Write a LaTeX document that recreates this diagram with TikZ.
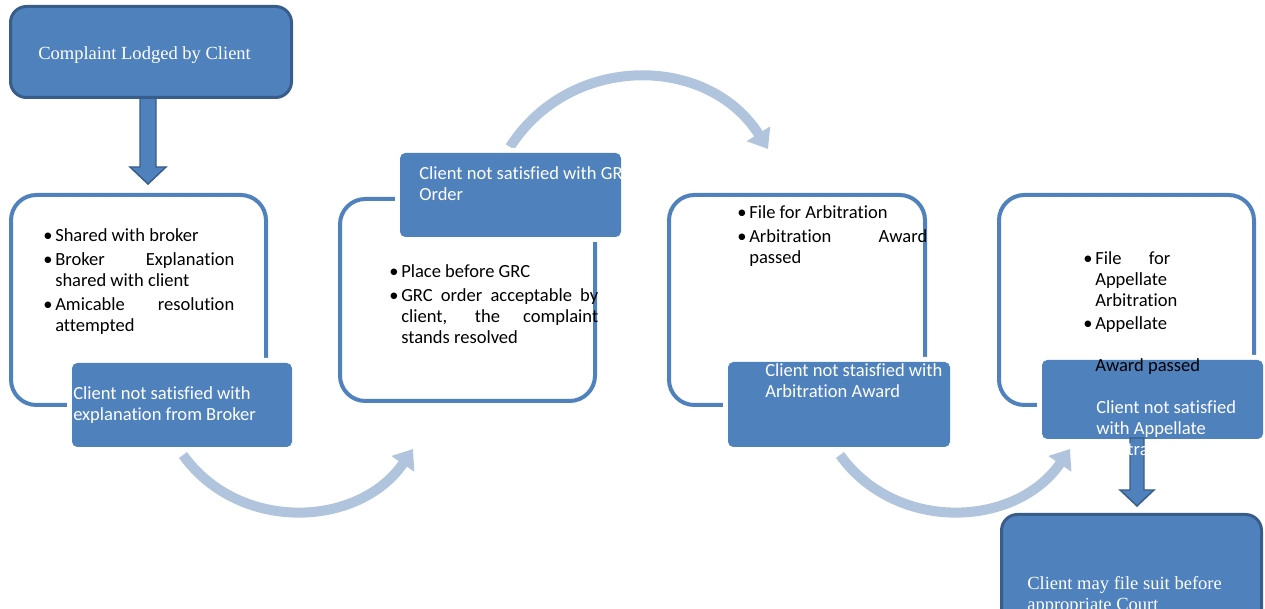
\documentclass[tikz,border=0pt]{standalone}
\usepackage{fontspec}
\setmainfont{Carlito}[Ligatures=NoCommon]
\newfontfamily\serifface{Liberation Serif}
\usetikzlibrary{arrows.meta}
\definecolor{boxblue}{HTML}{4F81BD}
\definecolor{boxdark}{HTML}{385D8A}
\definecolor{flowblue}{HTML}{B0C4DE}
\newcommand\bul{\makebox[9pt][l]{\textbullet}}
\newcommand\ind{\hspace*{9pt}}
\newcommand\sj[2]{\makebox[#1][s]{#2}}
\begin{document}
\begin{tikzpicture}[x=0.75pt, y=-0.75pt,
    stage/.style={draw=boxblue, line width=3pt, rounded corners=19pt, inner sep=0pt, outer sep=0pt, anchor=north west},
    tag/.style={fill=boxblue, rounded corners=4pt, inner sep=0pt, outer sep=0pt, anchor=north west,
                preaction={draw=white, line width=7.5pt}},
    endbox/.style={fill=boxblue, draw=boxdark, line width=2.25pt, rounded corners=12pt, inner sep=0pt, outer sep=0pt, anchor=north west},
    flow/.style={draw=flowblue, line width=7.5pt, -{Triangle[length=13.5pt, width=20pt]}},
    down/.style={fill=boxblue, draw=boxdark, line width=1.1pt},
    list/.style={anchor=base west, align=left, inner sep=0pt, font=\fontsize{13.9}{15.75}\selectfont},
    tagtext/.style={list, text=white},
    serif/.style={anchor=base west, align=left, inner sep=0pt, text=white, font=\serifface\fontsize{13.9}{16.5}\selectfont}]
\useasboundingbox (0,0) rectangle (1265,609);
% outline stages
\node[stage, minimum width=191.25pt, minimum height=157.5pt] (broker) at (11,195) {};
\node[stage, minimum width=191.25pt, minimum height=151.5pt] (grc) at (340,199) {};
\node[stage, minimum width=192pt, minimum height=157.5pt] (arb) at (669,195) {};
\node[stage, minimum width=191.25pt, minimum height=157.5pt] (appeal) at (999,195) {};
% curved flow arrows
\coordinate (f1s) at (183,455); \coordinate (f1e) at (413,449);
\coordinate (f2s) at (510,147); \coordinate (f2e) at (768,149);
\coordinate (f3s) at (840,455); \coordinate (f3e) at (1070,449);
\draw[flow] (f1s) .. controls (239,533) and (359,528) .. (f1e);
\draw[flow] (f2s) .. controls (570,53) and (708,54) .. (f2e);
\draw[flow] (f3s) .. controls (896,533) and (1016,528) .. (f3e);
% first block arrow and start box
\coordinate (tip1) at (148,184);
\draw[down] (tip1) -- ++(-18,-17) -- ++(10,0) -- ++(0,-70) -- ++(16,0) -- ++(0,70) -- ++(10,0) -- cycle;
\node[endbox, minimum width=210.75pt, minimum height=68.25pt] (lodged) at (10.5,6.5) {};
% filled tags
\node[tag, minimum width=165pt, minimum height=63pt] (tag1) at (72,363) {};
\node[tag, minimum width=165.75pt, minimum height=63pt] (tag2) at (400,153) {};
\node[tag, minimum width=166.5pt, minimum height=63.75pt] (tag3) at (728,362) {};
\node[tag, minimum width=165.75pt, minimum height=59.25pt] (tag4) at (1042,360) {};
% second block arrow and court box
\coordinate (tip2) at (1137,506);
\draw[down] (tip2) -- ++(-17,-16) -- ++(10,0) -- ++(0,-52) -- ++(14,0) -- ++(0,52) -- ++(10,0) -- cycle;
\node[endbox, minimum width=195pt, minimum height=90pt] (court) at (1001.5,514.5) {};
% texts (anchored at the baseline of the last line)
\node[serif] (lodgedtext) at (38,60) {Complaint Lodged by Client};
\node[list] (brokertext) at (43,332) {\bul Shared with broker\\[2.25pt]
  \bul\sj{134.25pt}{Broker Explanation}\\
  \ind shared with client\\[2.25pt]
  \bul\sj{134.25pt}{Amicable resolution}\\
  \ind attempted};
\node[list] (grctext) at (389,344) {\bul Place before GRC\\[2.25pt]
  \bul\sj{147.75pt}{GRC order acceptable by}\\
  \ind\sj{147.75pt}{client, the complaint}\\
  \ind stands resolved};
\node[list] (arbtext) at (737,264) {\bul File for Arbitration\\[2.25pt]
  \bul\sj{133.5pt}{Arbitration Award}\\
  \ind passed};
\node[list] (appealtext) at (1083,372) {\bul\sj{56.25pt}{File for}\\
  \ind Appellate\\
  \ind Arbitration\\[1.5pt]
  \bul Appellate\\
  \mbox{}\\
  \ind Award passed};
\node[tagtext] (tag1text) at (73,421) {Client not satisfied with\\explanation from Broker};
\node[tagtext] (tag2text) at (419,201) {Client not satisfied with GRC\\Order};
\node[tagtext] (tag3text) at (765,398) {Client not staisfied with\\Arbitration Award};
\node[tagtext] (tag4text) at (1096,456) {Client not satisfied\\with Appellate\\Arbitration};
\node[serif] (courttext) at (1027,611) {Client may file suit before\\appropriate Court};
\end{tikzpicture}
\end{document}
